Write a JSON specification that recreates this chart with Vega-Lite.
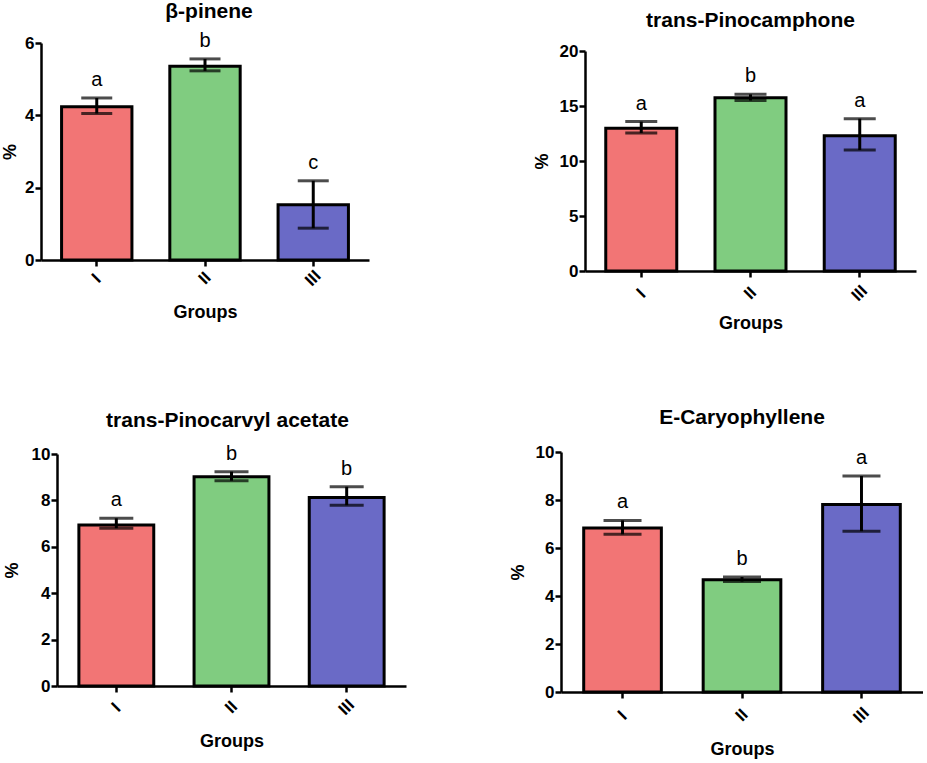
{
  "$schema": "https://vega.github.io/schema/vega-lite/v6.json",
  "padding": {"left": 1, "top": 0, "right": 0, "bottom": 0},
  "spacing": 74,
  "config": {
    "font": "Liberation Sans, Arial, sans-serif",
    "view": {"stroke": null},
    "title": {"fontSize": 21, "fontWeight": "bold", "color": "black", "frame": "group"},
    "axis": {
      "grid": false,
      "domainColor": "black",
      "domainWidth": 2.5,
      "tickColor": "black",
      "tickWidth": 2.5,
      "tickSize": 6,
      "labelColor": "black",
      "labelFont": "Liberation Sans, Arial, sans-serif",
      "labelFontSize": 17,
      "labelFontWeight": "bold",
      "titleColor": "black",
      "titleFont": "Liberation Sans, Arial, sans-serif",
      "titleFontSize": 18,
      "titleFontWeight": "bold"
    },
    "axisY": {"labelPadding": 1, "titlePadding": 8},
    "axisX": {"labelAngle": -45, "labelAlign": "center", "labelBaseline": "middle", "labelPadding": 12, "titlePadding": 15},
    "bar": {"stroke": "black", "strokeWidth": 3},
    "rule": {"color": "black", "strokeWidth": 3},
    "tick": {"color": "black", "thickness": 3},
    "text": {"fontSize": 20, "color": "black", "baseline": "alphabetic", "dy": -12}
  },
  "vconcat": [
    {
      "spacing": 156,
      "hconcat": [
        {
          "width": 320,
          "height": 213,
          "title": {"text": "β-pinene", "offset": 9},
          "data": {"values": [
            {"group": "I", "mean": 4.24, "lo": 4.05, "hi": 4.48, "letter": "a"},
            {"group": "II", "mean": 5.36, "lo": 5.23, "hi": 5.56, "letter": "b"},
            {"group": "III", "mean": 1.53, "lo": 0.88, "hi": 2.19, "letter": "c"}
          ]},
          "encoding": {
            "x": {"field": "group", "type": "nominal", "sort": null, "title": "Groups",
                  "scale": {"range": [-8, 320], "paddingInner": 0.35, "paddingOuter": 0.19},
                  "axis": {"labelPadding": 12, "titlePadding": 15}}
          },
          "layer": [
            {"mark": "bar",
             "encoding": {
               "y": {"field": "mean", "type": "quantitative", "title": "%", "scale": {"domain": [0, 6], "range": [213, -4]},
                     "axis": {"values": [0, 2, 4, 6], "titlePadding": 5, "offset": 8}},
               "color": {"field": "group", "type": "nominal", "legend": null,
                         "scale": {"domain": ["I", "II", "III"], "range": ["#F27575", "#80CC80", "#6A6AC6"]}}
             }},
            {"mark": "rule",
             "encoding": {
               "y": {"field": "lo", "type": "quantitative", "title": "%", "scale": {"domain": [0, 6], "range": [213, -4]}},
               "y2": {"field": "hi"}
             }},
            {"mark": {"type": "tick", "size": 31},
             "encoding": {"y": {"field": "hi", "type": "quantitative", "title": "%", "scale": {"domain": [0, 6], "range": [213, -4]}}}},
            {"mark": {"type": "tick", "size": 31},
             "encoding": {"y": {"field": "lo", "type": "quantitative", "title": "%", "scale": {"domain": [0, 6], "range": [213, -4]}}}},
            {"mark": "text",
             "encoding": {
               "y": {"field": "hi", "type": "quantitative", "title": "%", "scale": {"domain": [0, 6], "range": [213, -4]}},
               "text": {"field": "letter"}
             }}
          ]
        },
        {
          "width": 331,
          "height": 224,
          "title": {"text": "trans-Pinocamphone", "offset": 11},
          "data": {"values": [
            {"group": "I", "mean": 12.97, "lo": 12.55, "hi": 13.58, "letter": "a"},
            {"group": "II", "mean": 15.76, "lo": 15.5, "hi": 16.06, "letter": "b"},
            {"group": "III", "mean": 12.3, "lo": 11.0, "hi": 13.85, "letter": "a"}
          ]},
          "encoding": {
            "x": {"field": "group", "type": "nominal", "sort": null, "title": "Groups",
                  "scale": {"paddingInner": 0.35, "paddingOuter": 0.19},
                  "axis": {"labelPadding": 16, "titlePadding": 11}}
          },
          "layer": [
            {"mark": "bar",
             "encoding": {
               "y": {"field": "mean", "type": "quantitative", "title": "%", "scale": {"domain": [0, 20], "range": [224, 4]},
                     "axis": {"values": [0, 5, 10, 15, 20], "titlePadding": 8}},
               "color": {"field": "group", "type": "nominal", "legend": null,
                         "scale": {"domain": ["I", "II", "III"], "range": ["#F27575", "#80CC80", "#6A6AC6"]}}
             }},
            {"mark": "rule",
             "encoding": {
               "y": {"field": "lo", "type": "quantitative", "title": "%", "scale": {"domain": [0, 20], "range": [224, 4]}},
               "y2": {"field": "hi"}
             }},
            {"mark": {"type": "tick", "size": 32},
             "encoding": {"y": {"field": "hi", "type": "quantitative", "title": "%", "scale": {"domain": [0, 20], "range": [224, 4]}}}},
            {"mark": {"type": "tick", "size": 32},
             "encoding": {"y": {"field": "lo", "type": "quantitative", "title": "%", "scale": {"domain": [0, 20], "range": [224, 4]}}}},
            {"mark": "text",
             "encoding": {
               "y": {"field": "hi", "type": "quantitative", "title": "%", "scale": {"domain": [0, 20], "range": [224, 4]}},
               "text": {"field": "letter"}
             }}
          ]
        }
      ]
    },
    {
      "spacing": 103,
      "hconcat": [
        {
          "width": 357,
          "height": 234,
          "title": {"text": "trans-Pinocarvyl acetate", "offset": 13},
          "data": {"values": [
            {"group": "I", "mean": 6.94, "lo": 6.8, "hi": 7.23, "letter": "a"},
            {"group": "II", "mean": 9.02, "lo": 8.85, "hi": 9.24, "letter": "b"},
            {"group": "III", "mean": 8.12, "lo": 7.79, "hi": 8.59, "letter": "b"}
          ]},
          "encoding": {
            "x": {"field": "group", "type": "nominal", "sort": null, "title": "Groups",
                  "scale": {"range": [8, 357], "paddingInner": 0.35, "paddingOuter": 0.19},
                  "axis": {"labelPadding": 15, "titlePadding": 15}}
          },
          "layer": [
            {"mark": "bar",
             "encoding": {
               "y": {"field": "mean", "type": "quantitative", "title": "%", "scale": {"domain": [0, 10], "range": [234, 2]},
                     "axis": {"values": [0, 2, 4, 6, 8, 10], "titlePadding": 10, "offset": -8}},
               "color": {"field": "group", "type": "nominal", "legend": null,
                         "scale": {"domain": ["I", "II", "III"], "range": ["#F27575", "#80CC80", "#6A6AC6"]}}
             }},
            {"mark": "rule",
             "encoding": {
               "y": {"field": "lo", "type": "quantitative", "title": "%", "scale": {"domain": [0, 10], "range": [234, 2]}},
               "y2": {"field": "hi"}
             }},
            {"mark": {"type": "tick", "size": 34},
             "encoding": {"y": {"field": "hi", "type": "quantitative", "title": "%", "scale": {"domain": [0, 10], "range": [234, 2]}}}},
            {"mark": {"type": "tick", "size": 34},
             "encoding": {"y": {"field": "lo", "type": "quantitative", "title": "%", "scale": {"domain": [0, 10], "range": [234, 2]}}}},
            {"mark": "text",
             "encoding": {
               "y": {"field": "hi", "type": "quantitative", "title": "%", "scale": {"domain": [0, 10], "range": [234, 2]}},
               "text": {"field": "letter"}
             }}
          ]
        },
        {
          "width": 362,
          "height": 240,
          "title": {"text": "E-Caryophyllene", "offset": 15},
          "data": {"values": [
            {"group": "I", "mean": 6.83, "lo": 6.57, "hi": 7.15, "letter": "a"},
            {"group": "II", "mean": 4.68, "lo": 4.6, "hi": 4.79, "letter": "b"},
            {"group": "III", "mean": 7.81, "lo": 6.7, "hi": 9.0, "letter": "a"}
          ]},
          "encoding": {
            "x": {"field": "group", "type": "nominal", "sort": null, "title": "Groups",
                  "scale": {"paddingInner": 0.35, "paddingOuter": 0.19},
                  "axis": {"labelPadding": 17, "titlePadding": 15}}
          },
          "layer": [
            {"mark": "bar",
             "encoding": {
               "y": {"field": "mean", "type": "quantitative", "title": "%", "scale": {"domain": [0, 10], "range": [240, 0]},
                     "axis": {"values": [0, 2, 4, 6, 8, 10], "titlePadding": 8}},
               "color": {"field": "group", "type": "nominal", "legend": null,
                         "scale": {"domain": ["I", "II", "III"], "range": ["#F27575", "#80CC80", "#6A6AC6"]}}
             }},
            {"mark": "rule",
             "encoding": {
               "y": {"field": "lo", "type": "quantitative", "title": "%", "scale": {"domain": [0, 10], "range": [240, 0]}},
               "y2": {"field": "hi"}
             }},
            {"mark": {"type": "tick", "size": 38},
             "encoding": {"y": {"field": "hi", "type": "quantitative", "title": "%", "scale": {"domain": [0, 10], "range": [240, 0]}}}},
            {"mark": {"type": "tick", "size": 38},
             "encoding": {"y": {"field": "lo", "type": "quantitative", "title": "%", "scale": {"domain": [0, 10], "range": [240, 0]}}}},
            {"mark": "text",
             "encoding": {
               "y": {"field": "hi", "type": "quantitative", "title": "%", "scale": {"domain": [0, 10], "range": [240, 0]}},
               "text": {"field": "letter"}
             }}
          ]
        }
      ]
    }
  ]
}
